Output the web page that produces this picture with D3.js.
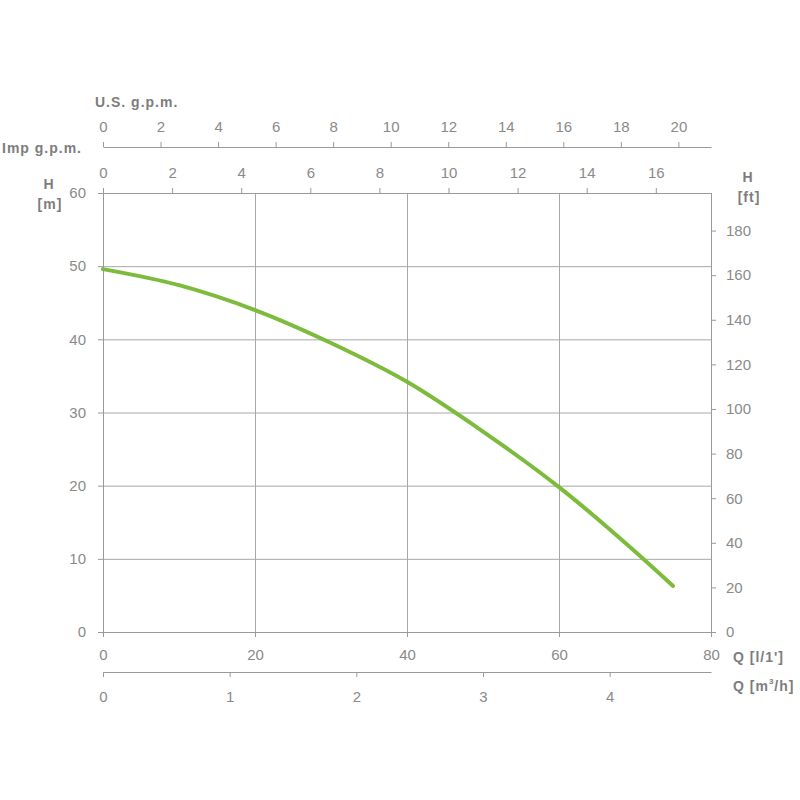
<!DOCTYPE html>
<html lang="en">
<head>
    <meta charset="utf-8">
    <title>Pump curve</title>
    <script src="https://d3js.org/d3.v7.js"></script>
    <style>
        body { margin: 0; background: #fff; }
        text { font-family: "Liberation Sans", Arial, sans-serif; fill: #8a8a8a; }
        .lbl { font-weight: bold; font-size: 14px; fill: #7d7d7d; letter-spacing: 1px; }
    </style>
</head>
<body>
<svg width="800" height="800"></svg>
<script type="text/javascript">
    // flow in l/min, head in m
    let flow = [0, 10, 20, 30, 40, 50, 60, 70, 75];
    let head = [49.6, 47.4, 44.0, 39.5, 34.2, 27.4, 19.8, 11.0, 6.3];

    let qTicks = [0, 20, 40, 60, 80];
    let hTicks = [0, 10, 20, 30, 40, 50, 60];
    let ftTicks = [0, 20, 40, 60, 80, 100, 120, 140, 160, 180];
    let m3hTicks = [0, 1, 2, 3, 4];
    let impTicks = [0, 2, 4, 6, 8, 10, 12, 14, 16];
    let usTicks = [0, 2, 4, 6, 8, 10, 12, 14, 16, 18, 20];

    let svg = d3.select("svg");
    let plotLeft = 103, plotRight = 711, plotTop = 193, plotBottom = 632;
    let axisColor = "#9a9a9a";

    let x = d3.scaleLinear().domain([0, 80]).range([plotLeft, plotRight]);
    let y = d3.scaleLinear().domain([0, 60]).range([plotBottom, plotTop]);
    let yFt = d3.scaleLinear().domain([0, 60 * 3.2808]).range([plotBottom, plotTop]);
    let xM3h = d3.scaleLinear().domain([0, 80 * 0.06]).range([plotLeft, plotRight]);
    let xImp = d3.scaleLinear().domain([0, 80 / 4.54609]).range([plotLeft, plotRight]);
    let xUs = d3.scaleLinear().domain([0, 80 / 3.78541]).range([plotLeft, plotRight]);

    // grid
    let grid = svg.append("g").attr("stroke", "#a8a8a8").attr("stroke-width", 1);
    grid.selectAll(".hg").data(hTicks).join("line")
        .attr("x1", plotLeft).attr("x2", plotRight)
        .attr("y1", d => y(d) + 0.5).attr("y2", d => y(d) + 0.5);
    grid.selectAll(".vg").data(qTicks).join("line")
        .attr("x1", d => x(d) + 0.5).attr("x2", d => x(d) + 0.5)
        .attr("y1", plotTop).attr("y2", plotBottom);

    function styleAxis(g) {
        g.selectAll("path, line").attr("stroke", axisColor);
        g.selectAll("text").attr("fill", "#8c8c8c")
            .style("font-size", "15px")
            .style("font-family", "'Liberation Sans', Arial, sans-serif");
    }

    // left H [m]
    svg.append("g").attr("transform", `translate(${plotLeft},0)`)
        .call(d3.axisLeft(y).tickValues(hTicks).tickSize(5).tickSizeOuter(0).tickPadding(12))
        .call(styleAxis);

    // right H [ft]
    svg.append("g").attr("transform", `translate(${plotRight},0)`)
        .call(d3.axisRight(yFt).tickValues(ftTicks).tickSize(5).tickSizeOuter(0).tickPadding(10))
        .call(g => g.select(".domain").attr("d", `M0.5,${plotTop}V${plotBottom}`))
        .call(styleAxis);

    // bottom Q [l/min]
    svg.append("g").attr("transform", `translate(0,${plotBottom})`)
        .call(d3.axisBottom(x).tickValues(qTicks).tickSize(5).tickSizeOuter(0).tickPadding(12))
        .call(styleAxis);

    // bottom Q [m3/h]
    svg.append("g").attr("transform", `translate(0,672)`)
        .call(d3.axisBottom(xM3h).tickValues(m3hTicks).tickFormat(d3.format("d"))
            .tickSize(5).tickSizeOuter(0).tickPadding(14))
        .call(styleAxis);

    // top Imp gpm
    svg.append("g").attr("transform", `translate(0,${plotTop})`)
        .call(d3.axisTop(xImp).tickValues(impTicks).tickSize(5).tickSizeOuter(0).tickPadding(10))
        .call(styleAxis);

    // top US gpm
    svg.append("g").attr("transform", `translate(0,147)`)
        .call(d3.axisTop(xUs).tickValues(usTicks).tickSize(5).tickSizeOuter(0).tickPadding(10))
        .call(styleAxis);

    // curve
    let line = d3.line()
        .x((d, i) => x(flow[i]))
        .y(d => y(d))
        .curve(d3.curveMonotoneX);
    svg.append("path")
        .datum(head)
        .attr("d", line)
        .attr("fill", "none")
        .attr("stroke", "#7dbb3d")
        .attr("stroke-width", 4)
        .attr("stroke-linecap", "round");

    // labels
    let labels = svg.append("g");
    labels.append("text").attr("class", "lbl").attr("x", 95).attr("y", 107).text("U.S. g.p.m.");
    labels.append("text").attr("class", "lbl").attr("x", 2).attr("y", 153).text("Imp g.p.m.");
    labels.append("text").attr("class", "lbl").attr("x", 49).attr("y", 189).attr("text-anchor", "middle").text("H");
    labels.append("text").attr("class", "lbl").attr("x", 50).attr("y", 209).attr("text-anchor", "middle").text("[m]");
    labels.append("text").attr("class", "lbl").attr("x", 748).attr("y", 182).attr("text-anchor", "middle").text("H");
    labels.append("text").attr("class", "lbl").attr("x", 749).attr("y", 202).attr("text-anchor", "middle").text("[ft]");
    labels.append("text").attr("class", "lbl").attr("x", 733).attr("y", 662).text("Q [l/1']");
    let m3 = labels.append("text").attr("class", "lbl").attr("x", 733).attr("y", 691);
    m3.append("tspan").text("Q [m");
    m3.append("tspan").attr("dy", -7).style("font-size", "8px").text("3");
    m3.append("tspan").attr("dy", 7).text("/h]");
</script>
</body>
</html>
